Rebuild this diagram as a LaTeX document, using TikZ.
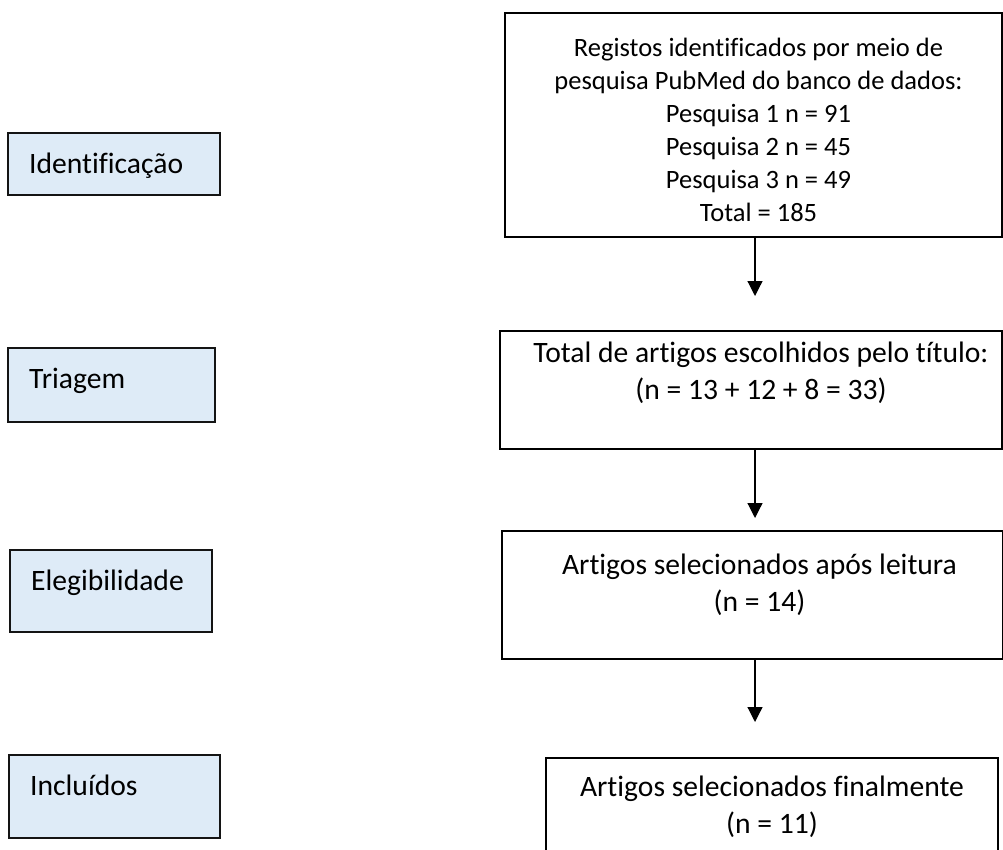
\documentclass[tikz,border=0pt]{standalone}
\usepackage{fontspec}
\setmainfont{Carlito}[Ligatures=CommonOff]
\usetikzlibrary{positioning,calc,arrows.meta}
\definecolor{stagefill}{RGB}{222,235,247}
\definecolor{stageedge}{RGB}{20,20,20}
\tikzset{
  stagebox/.style={draw=stageedge,fill=stagefill,line width=2.4pt,
    inner sep=0pt,outer sep=0pt,anchor=north west},
  flowbox/.style={draw=black,line width=2.4pt,inner sep=0pt,outer sep=0pt,
    anchor=north west},
  bigtext/.style={font=\fontsize{29.6}{37}\selectfont,align=center,inner sep=0pt},
  smalltext/.style={font=\fontsize{26.5}{33}\selectfont,align=center,inner sep=0pt},
  flowarrow/.style={line width=1.2pt,-{Triangle[width=15pt,length=15pt]}}
}
\newcommand{\stagecell}[6]{%
  \node[stagebox,minimum width=#4pt,minimum height=#5pt] (#1) at (#2,#3) {};
  % the stage name sits near the top-left corner, not centred
  \node[bigtext,anchor=base west] (#1txt) at ($(#1.north west)+(21,40)$) {#6};
}

\begin{document}
\begin{tikzpicture}[x=1pt,y=-1pt]
  \useasboundingbox (0,0) rectangle (1003,849);
  \stagecell{ident}{8}{133}{212}{62}{Identificação}
  \stagecell{triag}{8}{348}{207}{74}{Triagem}
  \stagecell{elig}{10}{550}{202}{82}{Elegibilidade}
  \stagecell{incl}{9}{755}{211}{83}{Incluídos}
  % flow column on the right
  \node[flowbox,minimum width=497pt,minimum height=224pt] (records) at (505,13) {};
  \node[flowbox,minimum width=502pt,minimum height=118pt] (screened) at (500,331) {};
  \node[flowbox,minimum width=501pt,minimum height=128pt] (eligible) at (502,531) {};
  \node[flowbox,minimum width=452pt,minimum height=110pt] (included) at (546,758) {};
  \node[smalltext,below=25pt of records.north,xshift=5pt] (recordstxt)
    {Registos identificados por meio de\\pesquisa PubMed do banco de dados:\\
     Pesquisa 1 n = 91\\Pesquisa 2 n = 45\\Pesquisa 3 n = 49\\Total = 185};
  \node[bigtext,below=11pt of screened.north,xshift=10pt] (screenedtxt)
    {Total de artigos escolhidos pelo título:\\(n = 13 + 12 + 8 = 33)};
  \node[bigtext,below=23pt of eligible.north,xshift=7pt] (eligibletxt)
    {Artigos selecionados após leitura\\(n = 14)};
  \node[bigtext,below=18pt of included.north] (includedtxt)
    {Artigos selecionados finalmente\\(n = 11)};
  \coordinate (tipA) at (755,296);
  \coordinate (tipB) at (755,518);
  \coordinate (tipC) at (755,722);
  \draw[flowarrow] (records.south -| tipA) -- (tipA);
  \draw[flowarrow] (screened.south -| tipB) -- (tipB);
  \draw[flowarrow] (eligible.south -| tipC) -- (tipC);
\end{tikzpicture}
\end{document}
